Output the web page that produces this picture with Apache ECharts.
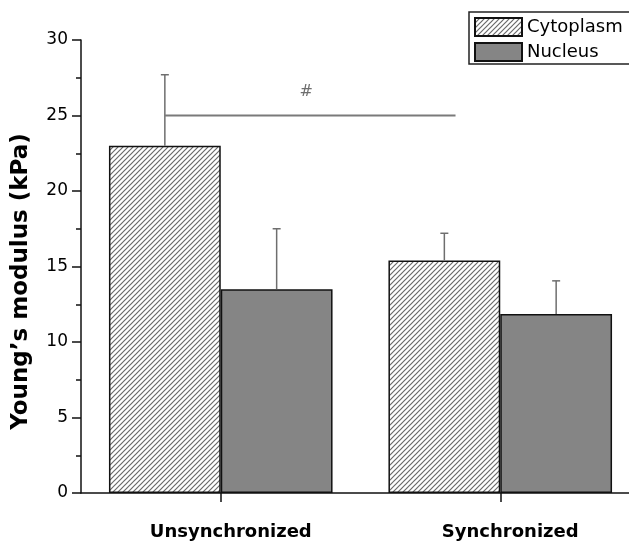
<!DOCTYPE html>
<html>
<head>
<meta charset="utf-8">
<script src="https://cdn.jsdelivr.net/npm/echarts@6/dist/echarts.min.js"></script>
<style>
html,body{margin:0;padding:0;background:#fff;}
#chart{width:629px;height:544px;}
</style>
</head>
<body>
<div id="chart"></div>
<script>
const categories = ['Unsynchronized', 'Synchronized'];
const seriesNames = ['Cytoplasm', 'Nucleus'];
const cytoplasm = [23.0, 15.4];
const nucleus = [13.5, 11.85];
const cytoplasmErr = [4.7, 1.8];
const nucleusErr = [4.0, 2.2];
const sigFrom = 0, sigTo = 1, sigValue = 25, sigLabel = '#';
const yTitle = 'Young\u2019s modulus (kPa)';

function makeHatch() {
  const s = 5;
  const c = document.createElement('canvas');
  c.width = s; c.height = s;
  const ctx = c.getContext('2d');
  ctx.fillStyle = '#ffffff';
  ctx.fillRect(0, 0, s, s);
  ctx.strokeStyle = '#6a6a6a';
  ctx.lineWidth = 1.2;
  ctx.beginPath();
  ctx.moveTo(0, s); ctx.lineTo(s, 0);
  ctx.moveTo(-1, 1); ctx.lineTo(1, -1);
  ctx.moveTo(s - 1, s + 1); ctx.lineTo(s + 1, s - 1);
  ctx.stroke();
  return c;
}
const hatch = { image: makeHatch(), repeat: 'repeat' };

function errRender(offsetFrac) {
  return function (params, api) {
    const band = api.size([1, 0])[0];
    const cx = api.coord([api.value(0), 0])[0] + offsetFrac * band;
    const y1 = api.coord([api.value(0), api.value(1)])[1];
    const y2 = api.coord([api.value(0), api.value(2)])[1];
    const st = { stroke: '#6e6e6e', lineWidth: 1.5 };
    return {
      type: 'group',
      children: [
        { type: 'line', shape: { x1: cx, y1: y1, x2: cx, y2: y2 }, style: st },
        { type: 'line', shape: { x1: cx - 4, y1: y2, x2: cx + 4, y2: y2 }, style: st }
      ]
    };
  };
}

const chart = echarts.init(document.getElementById('chart'));
chart.setOption({
  backgroundColor: '#fff',
  animation: false,
  textStyle: { fontFamily: 'DejaVu Sans' },
  legend: {
    data: seriesNames,
    orient: 'vertical',
    left: 469, top: 12,
    padding: [5, 30, 2, 5],
    itemGap: 5,
    itemWidth: 47, itemHeight: 18,
    borderColor: '#222', borderWidth: 1.5,
    textStyle: { fontFamily: 'DejaVu Sans', fontSize: 18, color: '#000', lineHeight: 18 },
    itemStyle: { borderColor: '#111', borderWidth: 2 },
    icon: 'rect'
  },
  grid: { left: 81, top: 40, bottom: 51, right: -11, containLabel: false, outerBoundsMode: 'none' },
  xAxis: {
    type: 'category',
    data: categories,
    axisLine: { lineStyle: { color: '#111', width: 1.5 } },
    axisTick: { show: true, interval: 0, alignWithLabel: true, length: 9, lineStyle: { color: '#111', width: 1.5 } },
    axisLabel: { margin: 30, fontFamily: 'DejaVu Sans', fontWeight: 'bold', fontSize: 18, color: '#000', padding: [0, 0, 0, 20] }
  },
  yAxis: {
    type: 'value',
    min: 0, max: 30, interval: 5,
    name: yTitle,
    nameLocation: 'middle',
    nameGap: 48,
    nameTextStyle: { fontFamily: 'DejaVu Sans', fontWeight: 'bold', fontSize: 23, color: '#000', padding: [0, 30, 0, 0] },
    axisLine: { show: true, lineStyle: { color: '#111', width: 1.5 } },
    axisTick: { show: true, length: 9, lineStyle: { color: '#111', width: 1.5 } },
    minorTick: { show: true, splitNumber: 2, length: 5, lineStyle: { color: '#111', width: 1.5 } },
    splitLine: { show: false },
    axisLabel: { margin: 13, fontFamily: 'DejaVu Sans', fontSize: 17, color: '#000' }
  },
  series: [
    {
      name: seriesNames[0], type: 'bar', data: cytoplasm,
      barWidth: '40%', barGap: '0%',
      itemStyle: { color: hatch, borderColor: '#111', borderWidth: 1.5 }
    },
    {
      name: seriesNames[1], type: 'bar', data: nucleus,
      barWidth: '40%', barGap: '0%',
      itemStyle: { color: '#858585', borderColor: '#111', borderWidth: 1.5 }
    },
    {
      type: 'custom', z: 5, silent: true,
      data: categories.map((c, i) => [i, cytoplasm[i], cytoplasm[i] + cytoplasmErr[i]]),
      encode: { x: 0, y: [1, 2] },
      renderItem: errRender(-0.2)
    },
    {
      type: 'custom', z: 5, silent: true,
      data: categories.map((c, i) => [i, nucleus[i], nucleus[i] + nucleusErr[i]]),
      encode: { x: 0, y: [1, 2] },
      renderItem: errRender(0.2)
    },
    {
      type: 'custom', z: 6, silent: true,
      data: [[sigFrom, sigTo, sigValue]],
      encode: { x: [0, 1], y: 2 },
      renderItem: function (params, api) {
        const band = api.size([1, 0])[0];
        const x1 = api.coord([api.value(0), api.value(2)])[0] - 0.2 * band;
        const x2 = api.coord([api.value(1), api.value(2)])[0] - 0.16 * band;
        const y = api.coord([api.value(0), api.value(2)])[1];
        return {
          type: 'group',
          children: [
            { type: 'line', shape: { x1: x1, y1: y, x2: x2, y2: y }, style: { stroke: '#7a7a7a', lineWidth: 2 } },
            { type: 'text', x: (x1 + x2) / 2 - 4, y: y - 24,
              style: { text: sigLabel, fill: '#6e6e6e', font: '16px "DejaVu Sans"', align: 'center', verticalAlign: 'middle' } }
          ]
        };
      }
    }
  ]
});
</script>
</body>
</html>
